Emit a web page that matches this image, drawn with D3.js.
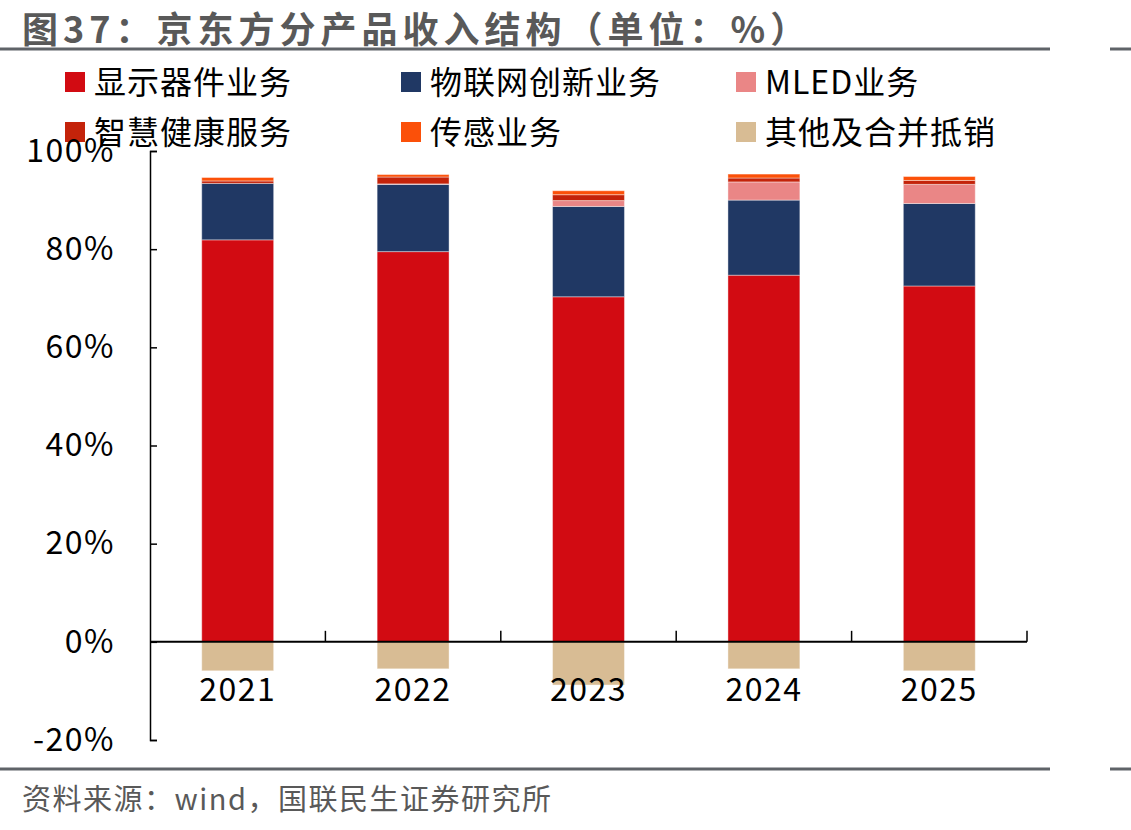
<!DOCTYPE html>
<html>
<head>
<meta charset="utf-8">
<script src="https://cdn.jsdelivr.net/npm/d3@7"></script>
<style>
  html, body { margin: 0; padding: 0; background: #fff; }
  svg { display: block; font-family: "Noto Sans CJK SC", "Noto Sans", sans-serif; }
</style>
</head>
<body>
<svg id="chart" width="1131" height="830"></svg>
<script>
"use strict";

// data, percent of revenue
const years = ["2021", "2022", "2023", "2024", "2025"];
const series = ["显示器件业务", "物联网创新业务", "MLED业务", "智慧健康服务", "传感业务", "其他及合并抵销"];
const display = [81.9, 79.5, 70.3, 74.7, 72.5];
const iot = [11.5, 13.7, 18.4, 15.3, 16.8];
const mled = [0.0, 0.1, 1.2, 3.7, 3.9];
const health = [0.5, 1.4, 1.2, 0.8, 0.8];
const sensor = [0.7, 0.5, 0.8, 0.8, 0.8];
const others = [-5.9, -5.5, -8.8, -5.5, -5.9];
const yTicks = [-20, 0, 20, 40, 60, 80, 100];
const colors = ["#d20b12", "#203864", "#ea8686", "#c4230a", "#fb5009", "#d8bc94"];

const svg = d3.select("#chart");
const W = 1131;
const margin = {left: 150, right: 104, top: 151, bottom: 90};
const plotBottom = 740;

// rows for d3.stack
const cols = [display, iot, mled, health, sensor, others];
const rows = years.map((yr, i) => {
  const r = {year: yr};
  series.forEach((s, j) => r[s] = cols[j][i]);
  return r;
});

const stacked = d3.stack()
  .keys(series)
  .offset(d3.stackOffsetDiverging)(rows);

const x = d3.scaleBand()
  .domain(years)
  .range([margin.left, W - margin.right]);

const y = d3.scaleLinear()
  .domain([-20, 100])
  .range([plotBottom, margin.top]);

const color = d3.scaleOrdinal(series, colors);

// title
svg.append("text")
  .attr("x", 22)
  .attr("y", 43)
  .attr("fill", "#595959")
  .style("font-size", "36px")
  .style("font-weight", "bold")
  .style("letter-spacing", "5px")
  .text("图37：京东方分产品收入结构（单位：%）");

// the grey rules above and below
[49, 769].forEach(yy => {
  svg.append("line")
    .attr("x1", 0).attr("x2", 1050)
    .attr("y1", yy).attr("y2", yy)
    .attr("stroke", "#5f6368").attr("stroke-width", 3);
  svg.append("line")
    .attr("x1", 1110).attr("x2", W)
    .attr("y1", yy).attr("y2", yy)
    .attr("stroke", "#5f6368").attr("stroke-width", 3);
});

// source note
svg.append("text")
  .attr("x", 22)
  .attr("y", 810)
  .attr("fill", "#595959")
  .style("font-size", "29px")
  .style("letter-spacing", "1.5px")
  .text("资料来源：wind，国联民生证券研究所");

// legend, 3 per row
const legend = svg.append("g");
const legX = [65, 401, 736];
const legY = [82, 132];
series.forEach((s, i) => {
  const g = legend.append("g")
    .attr("transform", `translate(${legX[i % 3]},${legY[Math.floor(i / 3)]})`);
  g.append("rect")
    .attr("x", 0).attr("y", -10)
    .attr("width", 20).attr("height", 20)
    .attr("fill", color(s));
  g.append("text")
    .attr("x", 29)
    .attr("dy", "0.36em")
    .style("font-size", "32px")
    .style("letter-spacing", "1px")
    .attr("fill", "#000")
    .text(s);
});

// bars
const barW = x.bandwidth() * 0.41;
svg.append("g")
  .selectAll("g")
  .data(stacked)
  .join("g")
    .attr("fill", d => color(d.key))
  .selectAll("rect")
  .data(d => d)
  .join("rect")
    .attr("x", d => x(d.data.year) + (x.bandwidth() - barW) / 2)
    .attr("y", d => y(d[1]))
    .attr("width", barW)
    .attr("height", d => Math.max(0, y(d[0]) - y(d[1])))
    .attr("stroke", "#fff")
    .attr("stroke-opacity", 0.4)
    .attr("stroke-width", 1);

// y axis, ticks inward
const yAxis = d3.axisRight(y)
  .tickValues(yTicks)
  .tickSize(7)
  .tickFormat(d => d + "%");
const gy = svg.append("g")
  .attr("transform", `translate(${margin.left},0)`)
  .call(yAxis);
gy.select(".domain").attr("stroke", "#000").attr("stroke-width", 1.5);
gy.selectAll(".tick line").attr("stroke", "#000").attr("stroke-width", 1.5);
gy.selectAll(".tick text")
  .attr("x", -35)
  .attr("text-anchor", "end")
  .attr("fill", "#000")
  .style("font-size", "32px")
  .style("letter-spacing", "1.5px")
  .style("font-family", "'Noto Sans CJK SC', sans-serif");

// x axis at zero, ticks between categories
const gx = svg.append("g")
  .attr("transform", `translate(0,${y(0)})`);
gx.append("line")
  .attr("x1", margin.left).attr("x2", W - margin.right)
  .attr("stroke", "#000").attr("stroke-width", 2);
gx.selectAll("line.sep")
  .data(years)
  .join("line")
    .attr("class", "sep")
    .attr("x1", d => x(d) + x.bandwidth())
    .attr("x2", d => x(d) + x.bandwidth())
    .attr("y1", 0).attr("y2", -11)
    .attr("stroke", "#000").attr("stroke-width", 1.5);
gx.selectAll("text")
  .data(years)
  .join("text")
    .attr("x", d => x(d) + x.bandwidth() / 2)
    .attr("y", 59)
    .attr("text-anchor", "middle")
    .style("font-size", "32px")
    .style("letter-spacing", "1.5px")
    .attr("fill", "#000")
    .text(d => d);
</script>
</body>
</html>
